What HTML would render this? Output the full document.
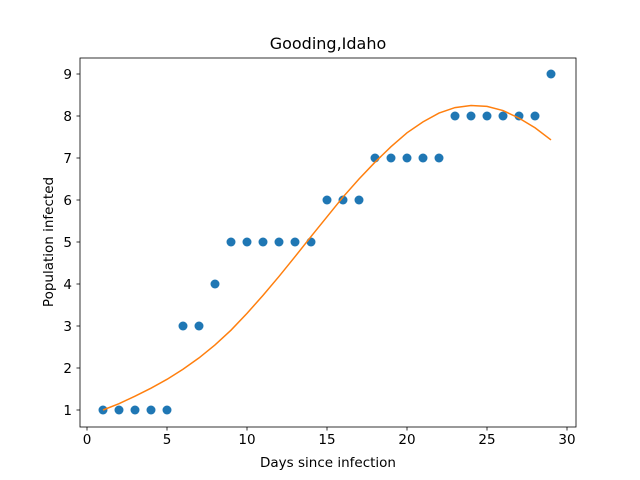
<!DOCTYPE html>
<html><head><meta charset="utf-8"><style>body{margin:0;background:#fff}svg{display:block;font-family:"DejaVu Sans","Liberation Sans",sans-serif}</style></head>
<body>
<svg id="c" width="640" height="480"></svg>
<script>
const days=[1,2,3,4,5,6,7,8,9,10,11,12,13,14,15,16,17,18,19,20,21,22,23,24,25,26,27,28,29];
const observed=[1,1,1,1,1,3,3,4,5,5,5,5,5,5,6,6,6,7,7,7,7,7,8,8,8,8,8,8,9];
const fitted=[1.0,1.15,1.33,1.52,1.73,1.97,2.24,2.55,2.9,3.3,3.73,4.18,4.65,5.13,5.6,6.07,6.5,6.9,7.27,7.6,7.86,8.07,8.2,8.25,8.23,8.13,7.95,7.72,7.43];
const xTicks=[0,5,10,15,20,25,30];
const yTicks=[1,2,3,4,5,6,7,8,9];
const NS="http://www.w3.org/2000/svg",svg=document.getElementById('c');
const X=v=>87+v*16, Y=v=>410-(v-1)*42;
function mk(t,a,p){const e=document.createElementNS(NS,t);for(const k in a)e.setAttribute(k,a[k]);(p||svg).appendChild(e);return e;}
const frame=mk('rect',{x:80,y:58,width:496,height:369,fill:'none',stroke:'#000','stroke-width':0.8});


xTicks.forEach(t=>{
 const l=mk('line',{x1:X(t),x2:X(t),y1:427,y2:430.5,stroke:'#000','stroke-width':0.8});
 
 
 const tx=mk('text',{x:X(t),y:444,'font-size':13.5,'text-anchor':'middle'});tx.textContent=t;
 
 
});
yTicks.forEach(t=>{
 const l=mk('line',{x1:76.5,x2:80,y1:Y(t),y2:Y(t),stroke:'#000','stroke-width':0.8});
 
 
 const tx=mk('text',{x:72,y:Y(t)+5,'font-size':13.5,'text-anchor':'end'});tx.textContent=t;
 
 
});
days.forEach((d,i)=>{
 const c=mk('circle',{cx:X(d),cy:Y(observed[i]),r:4.5,fill:'#1f77b4'});
 
 
});
const pl=mk('polyline',{points:days.map((d,i)=>X(d)+','+Y(fitted[i])).join(' '),fill:'none',stroke:'#ff7f0e','stroke-width':1.5});


const tt=mk('text',{x:328,y:49,'font-size':16,'text-anchor':'middle'});tt.textContent='Gooding,Idaho';


const xt=mk('text',{x:328,y:467,'font-size':13.5,'text-anchor':'middle'});xt.textContent='Days since infection';


const yt=mk('text',{x:53,y:242,'font-size':13.5,'text-anchor':'middle',transform:'rotate(-90 53 242)'});yt.textContent='Population infected';


</script>
</body></html>
